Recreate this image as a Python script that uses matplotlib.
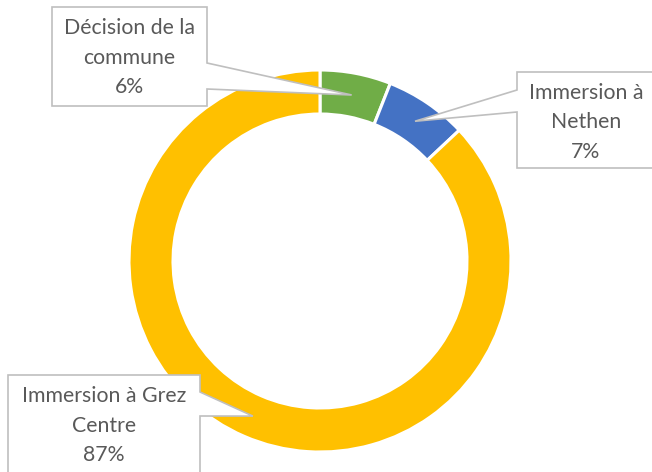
import numpy as np
import matplotlib.pyplot as plt
from matplotlib.patches import Polygon

labels = ["Décision de la\ncommune", "Immersion à\nNethen", "Immersion à Grez\nCentre"]
shares = [6, 7, 87]
colors = ["#70AD47", "#4472C4", "#FFC000"]

W, H = 652, 472
cx, cy = 320, 261
r_out, ring = 191, 44

fig = plt.figure(figsize=(W / 100, H / 100), dpi=100)
ax = fig.add_axes([0, 0, 1, 1])

# y is inverted (pixel style), so counterclock=True goes clockwise on screen
ax.pie(shares, colors=colors, startangle=-90, counterclock=True,
       radius=r_out, center=(cx, cy),
       wedgeprops=dict(width=ring, edgecolor="white", linewidth=2.2))
ax.set_xlim(0, W)
ax.set_ylim(H, 0)
ax.set_aspect("equal")
ax.axis("off")

# callout boxes: (x0, y0, x1, y1), side of the pointer, pointer base y-range
boxes = [
    (52, 7, 207, 106, "right", (63, 89)),
    (517, 72, 655, 168, "left", (90, 112)),
    (8, 375, 200, 476, "right", (392, 416)),
]

cum = np.cumsum([0] + shares[:-1])
r_mid = r_out - ring / 2
for lab, val, c0, (x0, y0, x1, y1, side, (b0, b1)) in zip(labels, shares, cum, boxes):
    a = np.deg2rad(-90 + 360 * (c0 + val / 2) / sum(shares))
    tip = (cx + r_mid * np.cos(a), cy + r_mid * np.sin(a))
    if side == "right":
        pts = [(x0, y0), (x1, y0), (x1, b0), tip, (x1, b1), (x1, y1), (x0, y1)]
    else:
        pts = [(x0, y0), (x1, y0), (x1, y1), (x0, y1), (x0, b1), tip, (x0, b0)]
    ax.add_patch(Polygon(pts, closed=True, facecolor="white",
                         edgecolor="#BFBFBF", linewidth=1.2, zorder=5))
    lines = lab.split("\n") + [f"{val}%"]
    xm = (x0 + x1) / 2
    for i, t in enumerate(lines):
        ax.text(xm, y0 + 21 + i * 29.5, t, ha="center", va="center",
                fontsize=15.3, family="Lato", color="#595959", zorder=6)

fig.savefig("out.png", dpi=100)
